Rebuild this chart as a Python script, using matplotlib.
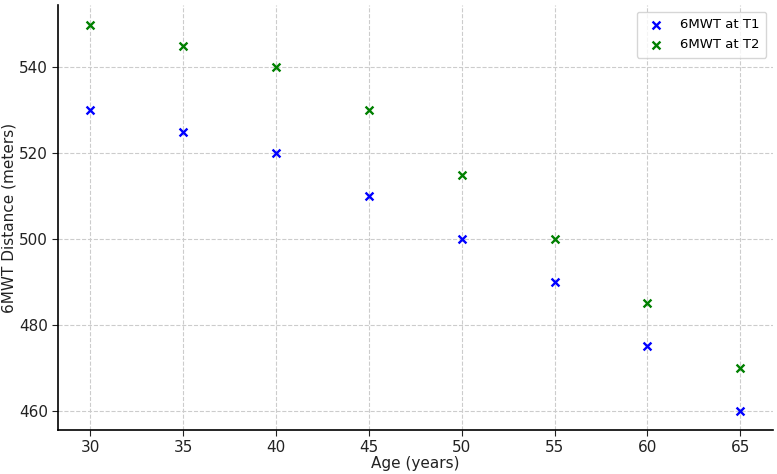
import matplotlib
matplotlib.use("Agg")
import matplotlib.pyplot as plt

ages = [30, 35, 40, 45, 50, 55, 60, 65]
dist_t1 = [530, 525, 520, 510, 500, 490, 475, 460]
dist_t2 = [550, 545, 540, 530, 515, 500, 485, 470]

fig = plt.figure(figsize=(7.77, 4.74), dpi=100)
ax = fig.add_axes([0.0746, 0.093, 0.92, 0.896])

ax.scatter(ages, dist_t1, marker="x", color="blue", s=32, linewidths=1.7, label="6MWT at T1", zorder=3)
ax.scatter(ages, dist_t2, marker="x", color="green", s=32, linewidths=1.7, label="6MWT at T2", zorder=3)

ax.grid(True, linestyle="--", color="#cccccc", linewidth=0.8)
ax.set_axisbelow(True)
for side in ("top", "right"):
    ax.spines[side].set_visible(False)
ax.spines["left"].set_linewidth(1.2)
ax.spines["bottom"].set_linewidth(1.2)

ax.tick_params(labelsize=11, colors="#222222", length=4, pad=3)
ax.set_xlabel("Age (years)", fontsize=11, color="#222222", labelpad=1)
ax.set_ylabel("6MWT Distance (meters)", fontsize=11, color="#222222", labelpad=2)
ax.legend(loc="upper right", fontsize=9.5, borderpad=0.5)

fig.savefig("out.png", dpi=100)
